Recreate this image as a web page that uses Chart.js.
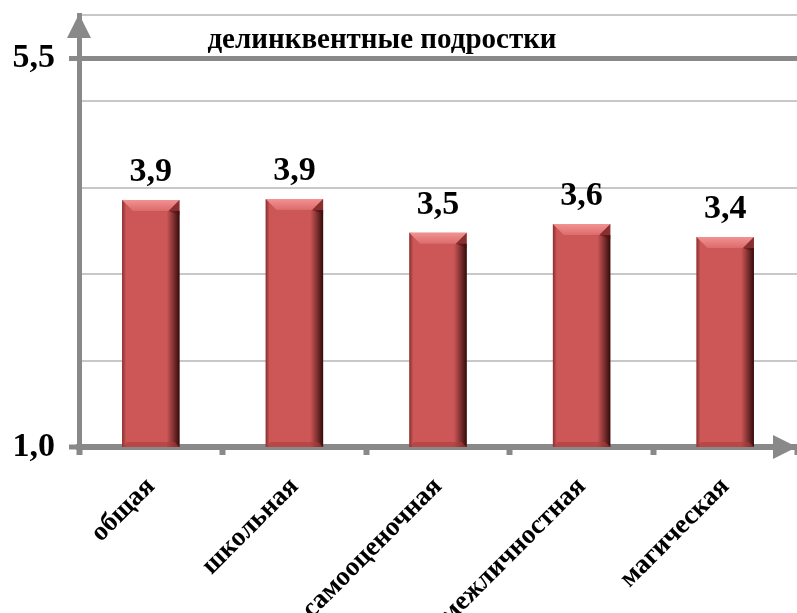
<!DOCTYPE html>
<html>
<head>
<meta charset="utf-8">
<script src="https://cdn.jsdelivr.net/npm/chart.js@4/dist/chart.umd.min.js"></script>
<style>
  html, body { margin: 0; padding: 0; background: #fff; }
  #wrap { width: 797px; height: 613px; position: relative; }
</style>
</head>
<body>
<div id="wrap"><canvas id="chart"></canvas></div>
<script>
'use strict';

// ── Data ─────────────────────────────────────────────────────────────────────
const categories = ['общая', 'школьная', 'самооценочная', 'межличностная', 'магическая'];
const values = [3.86, 3.87, 3.48, 3.58, 3.43];
const yTickValues = [1, 2, 3, 4, 5, 5.5, 6];
const yLabelledTicks = [1, 5.5];
const chartTitle = 'делинквентные подростки';

const AXIS_GREY = '#898989';
const GRID_GREY = '#c8c8c8';
const BAR_RED = '#cd5757';
const FONT = '"Liberation Serif", "Times New Roman", serif';

function fmt(v) {
  return v.toFixed(1).replace('.', ',');
}

// ── Plugin: bevel on bars, value labels, title, axis arrows ──────────────────
const decorPlugin = {
  id: 'decor',
  afterDatasetsDraw(chart) {
    const c = chart.ctx;
    const area = chart.chartArea;
    const meta = chart.getDatasetMeta(0);
    meta.data.forEach((bar, i) => {
      const { x, y, width } = bar.getProps(['x', 'y', 'width'], true);
      const base = Math.min(bar.base, area.bottom);
      const l = x - width / 2, r = x + width / 2, b = 11;
      c.save();
      // right dark edge
      let g = c.createLinearGradient(r - 13, 0, r, 0);
      g.addColorStop(0, 'rgba(60,10,10,0)');
      g.addColorStop(1, 'rgba(35,5,5,0.92)');
      c.fillStyle = g;
      c.fillRect(r - 13, y + b, 13, base - y - b);
      // left thin edge
      g = c.createLinearGradient(l, 0, l + 4, 0);
      g.addColorStop(0, 'rgba(90,20,20,0.6)');
      g.addColorStop(1, 'rgba(90,20,20,0)');
      c.fillStyle = g;
      c.fillRect(l, y, 4, base - y);
      // top bevel
      g = c.createLinearGradient(0, y, 0, y + b);
      g.addColorStop(0, '#f29292');
      g.addColorStop(1, '#dc6b6b');
      c.fillStyle = g;
      c.beginPath();
      c.moveTo(l, y);
      c.lineTo(r, y);
      c.lineTo(r - b, y + b);
      c.lineTo(l + b, y + b);
      c.closePath();
      c.fill();
      // upper right corner shade
      c.fillStyle = 'rgba(80,15,15,0.55)';
      c.beginPath();
      c.moveTo(r, y);
      c.lineTo(r, y + b + 4);
      c.lineTo(r - b, y + b);
      c.closePath();
      c.fill();
      // bottom bevel
      c.fillStyle = 'rgba(170,60,60,0.6)';
      c.beginPath();
      c.moveTo(l, base);
      c.lineTo(r, base);
      c.lineTo(r - 5, base - 5);
      c.lineTo(l + 5, base - 5);
      c.closePath();
      c.fill();
      // value label
      c.fillStyle = '#000';
      c.font = 'bold 34px ' + FONT;
      c.textAlign = 'center';
      c.textBaseline = 'alphabetic';
      c.fillText(fmt(values[i]), x, y - 19);
      c.restore();
    });
  },
  afterDraw(chart) {
    const c = chart.ctx;
    const area = chart.chartArea;
    const xs = chart.scales.x;
    c.save();
    // title inside plot area
    c.fillStyle = '#000';
    c.font = 'bold 29px ' + FONT;
    c.textAlign = 'center';
    c.textBaseline = 'alphabetic';
    c.fillText(chartTitle, xs.getPixelForValue(1.61), area.top + 33);
    // axis arrows
    c.fillStyle = AXIS_GREY;
    c.beginPath();
    c.moveTo(area.left, area.top - 1);
    c.lineTo(area.left - 12, area.top + 23);
    c.lineTo(area.left + 12, area.top + 23);
    c.closePath();
    c.fill();
    c.beginPath();
    c.moveTo(area.right, area.bottom);
    c.lineTo(area.right - 24, area.bottom - 12);
    c.lineTo(area.right - 24, area.bottom + 12);
    c.closePath();
    c.fill();
    c.restore();
  }
};

// ── Chart ────────────────────────────────────────────────────────────────────
new Chart(document.getElementById('chart'), {
  type: 'bar',
  data: {
    labels: categories,
    datasets: [{
      data: values,
      backgroundColor: BAR_RED,
      borderWidth: 0,
      barPercentage: 0.4,
      categoryPercentage: 1.0,
    }],
  },
  options: {
    responsive: true,
    maintainAspectRatio: false,
    animation: false,
    layout: { padding: { top: 15, right: 0, left: 0, bottom: 0 } },
    plugins: {
      legend: { display: false },
      tooltip: { enabled: false },
    },
    scales: {
      x: {
        afterFit: s => { s.height = 166; s.paddingLeft = 0; s.paddingRight = 0; },
        border: { color: AXIS_GREY, width: 6 },
        grid: {
          offset: true,
          drawOnChartArea: false,
          tickLength: 8,
          tickColor: AXIS_GREY,
          tickWidth: 6,
        },
        ticks: {
          color: '#000',
          font: { family: FONT, size: 27, weight: 'bold' },
          minRotation: 45,
          maxRotation: 45,
          autoSkip: false,
          padding: 16,
        },
      },
      y: {
        min: 1,
        max: 6,
        afterFit: s => { s.width = 79; s.paddingTop = 0; s.paddingBottom = 0; },
        afterBuildTicks: s => { s.ticks = yTickValues.map(v => ({ value: v })); },
        border: { color: AXIS_GREY, width: 5 },
        grid: {
          color: c => (c.tick && c.tick.value === 5.5 ? AXIS_GREY : GRID_GREY),
          lineWidth: c => (c.tick && c.tick.value === 5.5 ? 5 : 2),
          tickLength: 10,
          tickWidth: 5,
          tickColor: c => (c.tick && yLabelledTicks.includes(c.tick.value) ? AXIS_GREY : 'rgba(0,0,0,0)'),
        },
        ticks: {
          color: '#000',
          font: { family: FONT, size: 34, weight: 'bold' },
          padding: 14,
          callback: v => (yLabelledTicks.includes(v) ? fmt(v) : ''),
        },
      },
    },
  },
  plugins: [decorPlugin],
});
</script>
</body>
</html>
